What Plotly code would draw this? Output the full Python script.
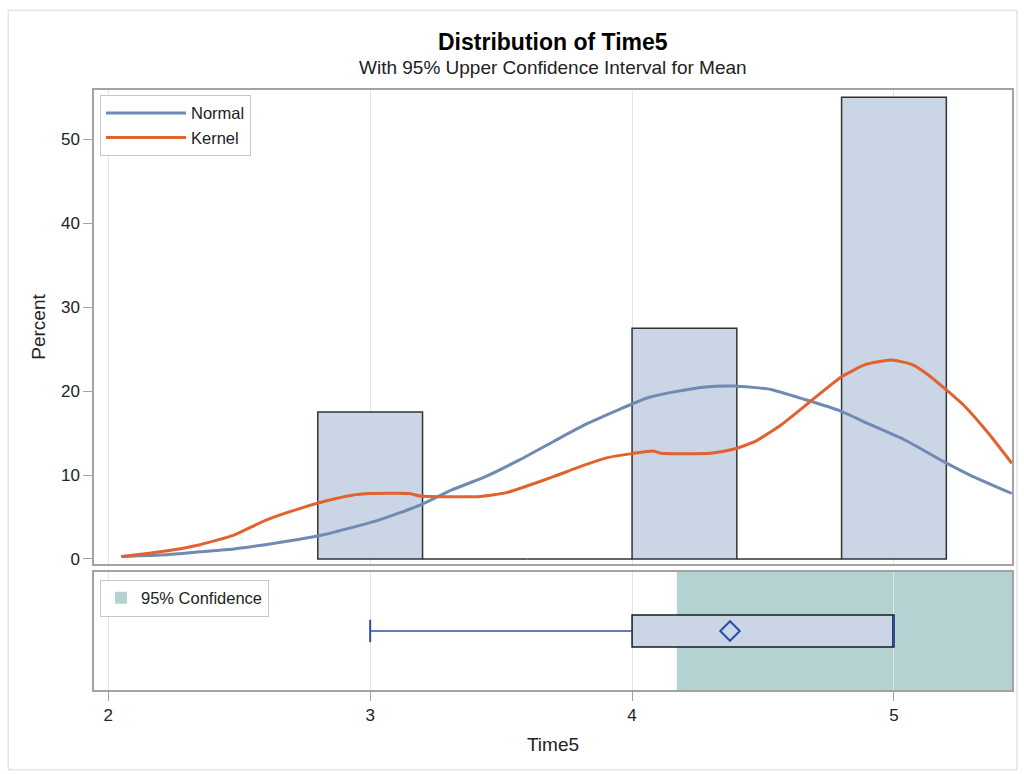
import plotly.graph_objects as go

# ---- data ----
bin_mid = [3.0, 3.4, 3.8, 4.2, 4.6, 5.0]
bin_pct = [17.5, 0, 0, 27.5, 0, 55.0]
bin_width = 0.4

normal_x = [2.05, 2.22, 2.35, 2.48, 2.60, 2.73, 2.83, 3.03, 3.19, 3.31, 3.44, 3.57, 3.70,
            3.82, 3.95, 4.06, 4.15, 4.28, 4.39, 4.53, 4.66, 4.79, 4.91, 5.04, 5.19, 5.29, 5.45]
normal_y = [0.3, 0.5, 0.85, 1.2, 1.7, 2.35, 2.95, 4.6, 6.4, 8.2, 9.8, 11.8, 14.0,
            16.0, 17.8, 19.2, 19.85, 20.5, 20.6, 20.2, 19.0, 17.7, 16.0, 14.2, 11.6, 10.0, 7.8]

kernel_x = [2.05, 2.22, 2.35, 2.48, 2.60, 2.73, 2.83, 2.93, 3.00, 3.15, 3.19, 3.42, 3.52,
            3.59, 3.70, 3.82, 3.91, 4.00, 4.08, 4.11, 4.30, 4.39, 4.47, 4.57, 4.69, 4.80,
            4.89, 4.99, 5.07, 5.13, 5.19, 5.27, 5.36, 5.45]
kernel_y = [0.3, 0.95, 1.7, 2.85, 4.6, 6.0, 6.9, 7.6, 7.8, 7.8, 7.5, 7.45, 7.9,
            8.6, 9.8, 11.2, 12.1, 12.55, 12.85, 12.6, 12.6, 13.1, 14.0, 16.0, 19.0, 21.7,
            23.15, 23.7, 23.15, 21.95, 20.4, 18.2, 15.0, 11.4]

box_min = 3.0
box_q1 = 4.0
box_median = 5.0
box_q3 = 5.0
box_max = 5.0
box_mean = 4.374
ci_lower = 4.171

x_ticks = [2, 3, 4, 5]
y_ticks = [0, 10, 20, 30, 40, 50]

title_text = "Distribution of Time5"
subtitle_text = "With 95% Upper Confidence Interval for Mean"

# ---- style ----
FONT = "Arial, Liberation Sans, sans-serif"
BAR_FILL = "#cad5e5"
BAR_LINE = "#333333"
NORMAL_C = "#6f8ab3"
KERNEL_C = "#e2622e"
CI_C = "#b4d2d1"
BOX_BLUE = "#2a4fa8"
FRAME = "#a3a3a3"
GRID = "#e4e4e4"
XR = [1.9455, 5.4507]

fig = go.Figure()

fig.add_trace(go.Bar(x=bin_mid, y=bin_pct, width=bin_width,
                     marker=dict(color=BAR_FILL, line=dict(color=BAR_LINE, width=1.5)),
                     showlegend=False, xaxis="x", yaxis="y"))
fig.add_trace(go.Scatter(x=normal_x, y=normal_y, mode="lines", name="Normal",
                         line=dict(color=NORMAL_C, width=3, shape="spline", smoothing=0.5),
                         legendgroup="n", xaxis="x", yaxis="y"))
fig.add_trace(go.Scatter(x=kernel_x, y=kernel_y, mode="lines", name="Kernel",
                         line=dict(color=KERNEL_C, width=3, shape="spline", smoothing=0.5),
                         legendgroup="k", xaxis="x", yaxis="y"))

# lower panel: box
fig.add_trace(go.Box(orientation="h", y=[0], q1=[box_q1], median=[box_median], q3=[box_q3],
                     lowerfence=[box_q1], upperfence=[box_max], width=0.54, fillcolor=BAR_FILL,
                     line=dict(color="#1a1a1a", width=1.5), showlegend=False,
                     xaxis="x2", yaxis="y2", hoverinfo="skip"))
fig.add_trace(go.Scatter(x=[box_min, box_q1], y=[0, 0], mode="lines", line=dict(color=BOX_BLUE, width=1.5),
                         showlegend=False, xaxis="x2", yaxis="y2"))
fig.add_trace(go.Scatter(x=[box_min], y=[0], mode="markers",
                         marker=dict(symbol="line-ns", size=16, line=dict(color=BOX_BLUE, width=2)),
                         showlegend=False, xaxis="x2", yaxis="y2"))
fig.add_trace(go.Scatter(x=[box_median, box_median], y=[-0.26, 0.26], mode="lines",
                         line=dict(color=BOX_BLUE, width=2), showlegend=False, xaxis="x2", yaxis="y2"))
fig.add_trace(go.Scatter(x=[box_mean], y=[0], mode="markers",
                         marker=dict(symbol="diamond-open", size=15, color=BOX_BLUE, line=dict(width=2, color=BOX_BLUE)),
                         showlegend=False, xaxis="x2", yaxis="y2"))

axis_common = dict(showline=True, mirror=True, linecolor=FRAME, linewidth=1.5, zeroline=False)

fig.update_layout(
    width=1024, height=774,
    margin=dict(l=94, r=10, t=90, b=84),
    paper_bgcolor="white", plot_bgcolor="white",
    font=dict(family=FONT, size=16.5, color="#222222"),
    barmode="overlay",
    xaxis=dict(domain=[0, 1], range=XR, anchor="y", matches="x2", showticklabels=False, ticks="",
               tickvals=x_ticks, showgrid=True, gridcolor=GRID, gridwidth=1, **axis_common),
    yaxis=dict(domain=[0.21, 1], range=[-0.6, 55.87], tickvals=y_ticks, ticks="outside", ticklen=9,
               tickcolor=FRAME, tickfont=dict(size=17), showgrid=False,
               title=dict(text="Percent", standoff=10, font=dict(size=19)), **axis_common),
    xaxis2=dict(domain=[0, 1], range=XR, anchor="y2", tickvals=x_ticks, ticks="outside", ticklen=9,
                tickcolor=FRAME, tickfont=dict(size=17), showgrid=True, gridcolor=GRID, gridwidth=1,
                title=dict(text="Time5", standoff=14, font=dict(size=19)), **axis_common),
    yaxis2=dict(domain=[0, 0.1967], range=[-1, 1], showticklabels=False, ticks="", showgrid=False, **axis_common),
    legend=dict(x=0.0065, y=0.992, xanchor="left", yanchor="top", bgcolor="white", bordercolor="#c8c8c8",
                borderwidth=1, font=dict(size=16.5), itemwidth=80, tracegroupgap=0),
    legend2=dict(x=0.0065, y=0.184, xanchor="left", yanchor="top", bgcolor="white", bordercolor="#c8c8c8",
                 borderwidth=1, font=dict(size=16.5), itemwidth=30),
    shapes=[
        dict(type="rect", xref="paper", yref="paper", x0=-0.0935, x1=1.0054, y0=-0.133, y1=1.133,
             line=dict(color="#d6d6d6", width=1), fillcolor="rgba(0,0,0,0)", layer="below"),
        dict(type="rect", xref="x2", yref="y2", x0=ci_lower, x1=6, y0=-1, y1=1, fillcolor=CI_C,
             line=dict(width=0), layer="below", showlegend=True, legend="legend2", name="95% Confidence"),
    ],
    annotations=[
        dict(text="<b>" + title_text + "</b>", xref="paper", yref="paper", x=0.5, y=1.08, xanchor="center",
             yanchor="middle", showarrow=False, font=dict(size=23, color="black")),
        dict(text=subtitle_text, xref="paper", yref="paper", x=0.5, y=1.038, xanchor="center",
             yanchor="middle", showarrow=False, font=dict(size=19, color="#222222")),
    ],
)

fig.write_html("out.html", config={"displayModeBar": False},
               post_script="document.body.style.margin='0';")
